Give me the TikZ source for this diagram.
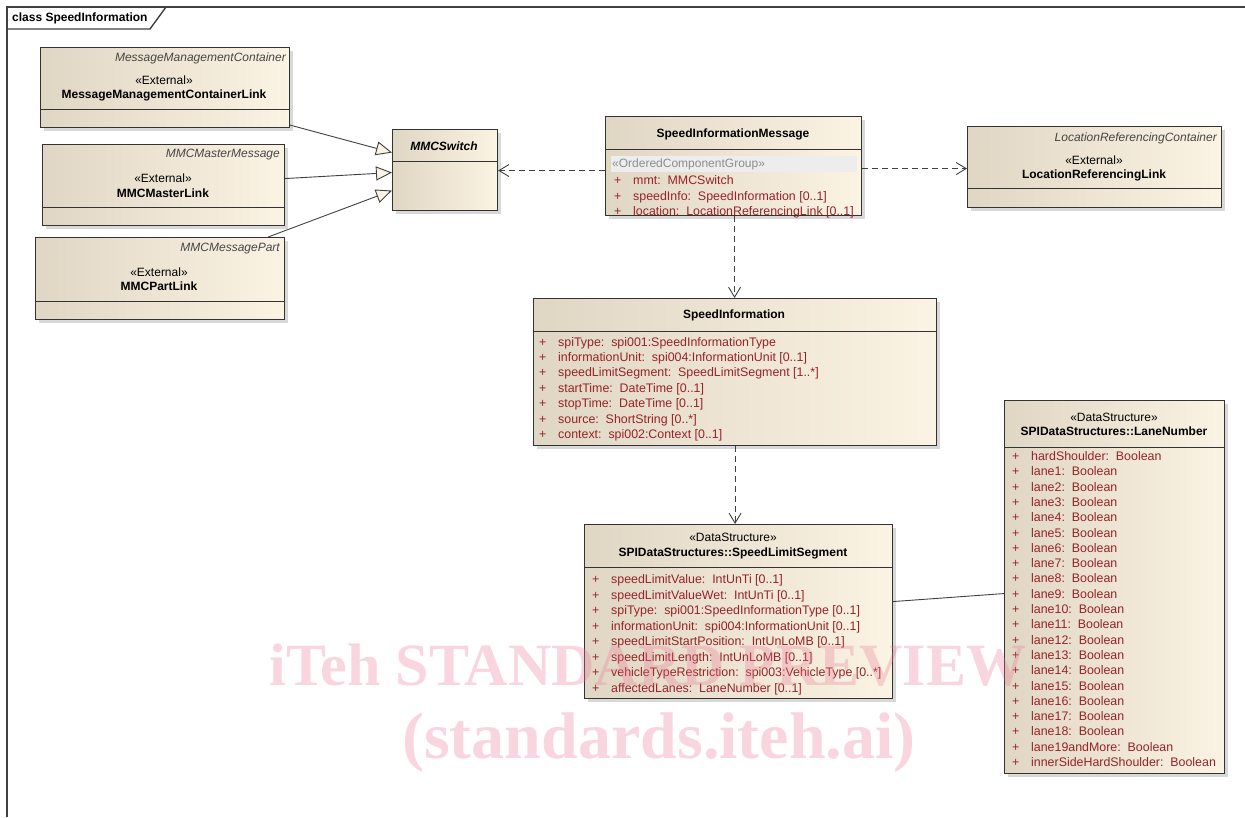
\documentclass[tikz,border=0pt]{standalone}
\usepackage{fontspec}
\setmainfont{Liberation Sans}
\newfontfamily\markfont{Liberation Serif}
\usetikzlibrary{arrows.meta,shadows}
\definecolor{umlleft}{RGB}{224,214,196}
\definecolor{umlright}{RGB}{251,243,227}
\definecolor{attrred}{RGB}{150,35,40}
\definecolor{pkggray}{RGB}{70,70,70}
\definecolor{markpink}{RGB}{235,120,150}
\newcommand\plusrow{\makebox[19pt][l]{+}}
\tikzset{
  classbox/.style={draw=black!80, line width=1.1pt, anchor=north west, inner sep=0pt,
    left color=umlleft, right color=umlright,
    drop shadow={shadow xshift=3.5pt, shadow yshift=-3.5pt, fill=black!30}},
  sepline/.style={draw=black!80, line width=1pt},
  frame/.style={draw=black!75, line width=1.4pt},
  title/.style={font=\fontsize{12}{14}\selectfont\bfseries, inner sep=0pt},
  stereo/.style={font=\fontsize{12}{14}\selectfont, inner sep=0pt},
  pkg/.style={font=\fontsize{12}{14}\selectfont\itshape, text=pkggray, anchor=east, inner sep=0pt},
  attr/.style={font=\fontsize{12.4}{14}\selectfont, text=attrred, anchor=base west, inner sep=0pt},
  gen/.style={line width=0.9pt, draw=black!75, -{Triangle[open, fill=umlright, length=16pt, width=14pt]}},
  dep/.style={line width=0.9pt, draw=black!75, dash pattern=on 6pt off 4pt, -{Straight Barb[length=10pt, width=12pt]}},
  assoc/.style={line width=0.9pt, draw=black!75},
  wmark/.style={text=markpink, text opacity=0.3, inner sep=0pt, anchor=base}
}
\begin{document}
\begin{tikzpicture}[x=1pt, y=-1pt]
\useasboundingbox (0,0) rectangle (1245,817);
\draw[frame] (7,817) -- (7,7) -- (1245,7);
\draw[frame] (7,29) -- (150,29) -- (166,7);
\node[title, anchor=west] (tab) at (12,18) {class SpeedInformation};

\foreach \b/\x/\y/\w/\h in {mmcl/40/47/249/80, mmcm/42/144/242/81, mmcp/35/237/249/82,
    mmcsw/392/129/105/81, sim/605/116/256/99, lrl/967/126/254/81,
    si/533/298/403/147, sls/584/524/308/174, lane/1004/400/220/373}
  \node[classbox, minimum width=\w pt, minimum height=\h pt] (\b) at (\x,\y) {};
\foreach \b/\d in {mmcl/62, mmcm/63, mmcp/64, mmcsw/32, sim/33, lrl/62, si/33, sls/43, lane/47}
  \draw[sepline] ([yshift=-\d pt]\b.north west) -- ([yshift=-\d pt]\b.north east);

\node[pkg] (mmcl-pkg) at (286,58) {MessageManagementContainer};
\node[stereo] (mmcl-st) at (164,80) {«External»};
\node[title] (mmcl-name) at (164,95) {MessageManagementContainerLink};

\node[pkg] (mmcm-pkg) at (280,155) {MMCMasterMessage};
\node[stereo] (mmcm-st) at (163,178) {«External»};
\node[title] (mmcm-name) at (163,193) {MMCMasterLink};

\node[pkg] (mmcp-pkg) at (280,249) {MMCMessagePart};
\node[stereo] (mmcp-st) at (159,272) {«External»};
\node[title] (mmcp-name) at (159,286) {MMCPartLink};

\node[title, font=\fontsize{12}{14}\selectfont\bfseries\itshape] (mmcsw-name) at (444,146) {MMCSwitch};

\node[pkg] (lrl-pkg) at (1217,138) {LocationReferencingContainer};
\node[stereo] (lrl-st) at (1094,160) {«External»};
\node[title] (lrl-name) at (1094,175) {LocationReferencingLink};

\node[title] (sim-name) at (733,134) {SpeedInformationMessage};
\fill[black!7] (611,156) rectangle (857,172);
\node[stereo, anchor=west, text=black!45] (sim-st) at (612,164.5) {«OrderedComponentGroup»};
\foreach \t [count=\i from 0] in {{mmt:\ \ MMCSwitch}, {speedInfo:\ \ SpeedInformation [0..1]},
    {location:\ \ LocationReferencingLink [0..1]}}
  \node[attr] (simattr\i) at (614,{184.5+15.7*\i}) {\plusrow\t};

\node[title] (si-name) at (734,315) {SpeedInformation};
\foreach \t [count=\i from 0] in {{spiType:\ \ spi001:SpeedInformationType},
    {informationUnit:\ \ spi004:InformationUnit [0..1]},
    {speedLimitSegment:\ \ SpeedLimitSegment [1..*]},
    {startTime:\ \ DateTime [0..1]}, {stopTime:\ \ DateTime [0..1]},
    {source:\ \ ShortString [0..*]}, {context:\ \ spi002:Context [0..1]}}
  \node[attr] (siattr\i) at (539,{346+15.45*\i}) {\plusrow\t};

\node[stereo] (sls-st) at (733,537) {«DataStructure»};
\node[title] (sls-name) at (733,553) {SPIDataStructures::SpeedLimitSegment};
\foreach \t [count=\i from 0] in {{speedLimitValue:\ \ IntUnTi [0..1]},
    {speedLimitValueWet:\ \ IntUnTi [0..1]},
    {spiType:\ \ spi001:SpeedInformationType [0..1]},
    {informationUnit:\ \ spi004:InformationUnit [0..1]},
    {speedLimitStartPosition:\ \ IntUnLoMB [0..1]},
    {speedLimitLength:\ \ IntUnLoMB [0..1]},
    {vehicleTypeRestriction:\ \ spi003:VehicleType [0..*]},
    {affectedLanes:\ \ LaneNumber [0..1]}}
  \node[attr] (slsattr\i) at (592,{583.5+15.5*\i}) {\plusrow\t};

\node[stereo] (lane-st) at (1114,417) {«DataStructure»};
\node[title] (lane-name) at (1114,431) {SPIDataStructures::LaneNumber};
\node[attr] (ln0) at (1012,460.5) {\plusrow hardShoulder:\ \ Boolean};
\foreach \k in {1,...,18}
  \node[attr] (ln\k) at (1012,{460.5+15.3*\k}) {\plusrow lane\k:\ \ Boolean};
\node[attr] (ln19) at (1012,{460.5+15.3*19}) {\plusrow lane19andMore:\ \ Boolean};
\node[attr] (ln20) at (1012,{460.5+15.3*20}) {\plusrow innerSideHardShoulder:\ \ Boolean};

\draw[gen] ([yshift=3pt]mmcl.south east) -- ([yshift=17.5pt]mmcsw.west);
\draw[gen] ([yshift=6.5pt]mmcm.east) -- ([yshift=-2.5pt]mmcsw.west);
\draw[gen] ([xshift=-17pt]mmcp.north east) -- ([yshift=-20.5pt]mmcsw.west);
\draw[dep] ([yshift=-4.5pt]sim.west) -- ([yshift=-4.5pt]sim.west -| mmcsw.east);
\draw[dep] ([yshift=-2.5pt]sim.east) -- ([yshift=-2.5pt]sim.east -| lrl.west);
\draw[dep] ([xshift=1pt]sim.south) -- ([xshift=1pt]sim.south |- si.north);
\draw[dep] (si.south) -- (si.south |- sls.north);
\draw[assoc] ([yshift=10pt]sls.east) -- ([yshift=-6.5pt]lane.west);

\node[wmark, font=\markfont\bfseries\fontsize{60}{60}\selectfont] (wm1) at (648,685) {iTeh STANDARD PREVIEW};
\node[wmark, font=\markfont\bfseries\fontsize{66}{66}\selectfont] (wm2) at (659,758) {(standards.iteh.ai)};
\end{tikzpicture}
\end{document}
